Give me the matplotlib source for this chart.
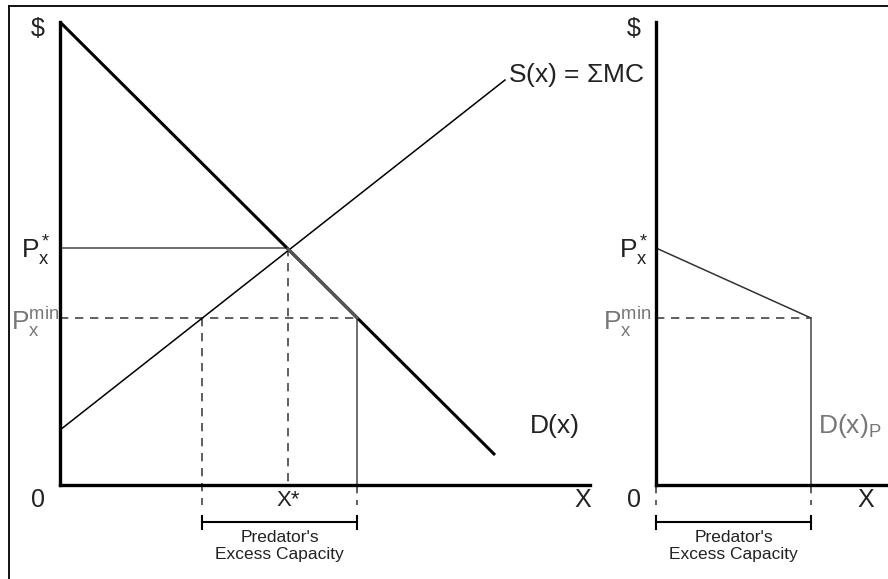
import numpy as np
import matplotlib
matplotlib.use("Agg")
import matplotlib.pyplot as plt
from matplotlib.lines import Line2D

plt.rcParams['font.family'] = ['Liberation Sans', 'DejaVu Sans']
plt.rcParams['mathtext.fontset'] = 'custom'
plt.rcParams['mathtext.rm'] = 'Liberation Sans'
plt.rcParams['mathtext.it'] = 'Liberation Sans'

# ---- data (economic units) ----
demand_q = [0.0, 43.5]
demand_p = [46.3, 3.0]
supply_q = [0.0, 44.5]
supply_p = [5.5, 40.5]
q_star = 22.8
p_star = 23.7
p_min = 16.7
qs_min = 14.2
qd_min = 29.7
resid_q = [0.0, 15.5, 15.5]
resid_p = [23.7, 16.7, 0.0]

W, H = 888, 579
fig = plt.figure(figsize=(W / 100, H / 100), dpi=100)

TXT = '#222222'
GRAY = '#555555'
LGRAY = '#777777'
DASH = (0, (5, 4))
ylim = 46.3
FS = 18

axL = fig.add_axes([60 / W, (H - 485) / H, 530 / W, 463 / H])
axR = fig.add_axes([656 / W, (H - 485) / H, 232 / W, 463 / H])
axL.set_xlim(0, 53.0)
axR.set_xlim(0, 23.2)
for ax in (axL, axR):
    ax.set_ylim(0, ylim)
    ax.set_xticks([])
    ax.set_yticks([])
    ax.spines['top'].set_visible(False)
    ax.spines['right'].set_visible(False)
    ax.spines['left'].set_linewidth(2.4)
    ax.spines['bottom'].set_linewidth(2.4)
    ax.patch.set_alpha(0)

# ---- left panel ----
axL.plot(demand_q, demand_p, color='black', lw=2.2, solid_capstyle='butt', zorder=3)
dq = np.array([q_star, qd_min])
dp = np.interp(dq, demand_q, demand_p)
axL.plot(dq, dp, color='#555555', lw=2.3, zorder=4)
axL.plot(supply_q, supply_p, color='black', lw=1.1, zorder=3)
axL.plot([0, q_star], [p_star, p_star], color=GRAY, lw=1.2)
axL.plot([0, qd_min], [p_min, p_min], color='#444444', lw=1.2, ls=DASH)
axL.plot([q_star, q_star], [p_star, 0], color='#444444', lw=1.2, ls=DASH)
axL.plot([qs_min, qs_min], [p_min, -2.0], color='#444444', lw=1.2, ls=DASH, clip_on=False)
axL.plot([qd_min, qd_min], [p_min, 0], color=GRAY, lw=1.2)
axL.plot([qd_min, qd_min], [0, -2.0], color='#444444', lw=1.2, ls=DASH, clip_on=False)
# bracket
axL.plot([qs_min, qd_min], [-3.7, -3.7], color='black', lw=1.5, clip_on=False)
for q in (qs_min, qd_min):
    axL.plot([q, q], [-3.1, -4.4], color='black', lw=1.5, clip_on=False)
axL.text((qs_min + qd_min) / 2, -4.5, "Predator's\nExcess Capacity", ha='center', va='top',
         fontsize=12.5, color=TXT, linespacing=1.15, clip_on=False)

axL.text(-2.2, 45.6, '$', ha='center', va='center', fontsize=FS, color=TXT)
axL.text(-0.9, p_star - 0.3, r'$\mathregular{P_x^*}$', ha='right', va='center', fontsize=FS + 1, color=TXT)
axL.text(-0.1, p_min - 0.4, r'$\mathregular{P_x^{min}}$', ha='right', va='center', fontsize=FS + 1, color=LGRAY)
axL.text(-2.2, -1.5, '0', ha='center', va='center', fontsize=FS, color=TXT)
axL.text(52.3, -1.5, 'X', ha='center', va='center', fontsize=FS, color=TXT)
axL.text(q_star, -1.5, 'X*', ha='center', va='center', fontsize=FS - 2, color=TXT)
axL.text(47.0, 5.9, 'D(x)', ha='left', va='center', fontsize=FS + 1, color=TXT)
axL.text(44.8, 41.0, r'S(x) = $\mathregular{\Sigma}$MC', ha='left', va='center', fontsize=FS + 1, color=TXT)

# ---- right panel ----
axR.plot(resid_q[:2], resid_p[:2], color='#333333', lw=1.1)
axR.plot(resid_q[1:], resid_p[1:], color=GRAY, lw=1.2)
axR.plot([0, resid_q[1]], [p_min, p_min], color='#444444', lw=1.2, ls=DASH)
axR.plot([0, 0], [0, -2.0], color='#444444', lw=1.2, ls=DASH, clip_on=False)
axR.plot([resid_q[1], resid_q[1]], [0, -2.0], color='#444444', lw=1.2, ls=DASH, clip_on=False)
axR.plot([0, resid_q[1]], [-3.7, -3.7], color='black', lw=1.5, clip_on=False)
for q in (0, resid_q[1]):
    axR.plot([q, q], [-3.1, -4.4], color='black', lw=1.5, clip_on=False)
axR.text(resid_q[1] / 2, -4.5, "Predator's\nExcess Capacity", ha='center', va='top',
         fontsize=12.5, color=TXT, linespacing=1.15, clip_on=False)

axR.text(-2.2, 45.6, '$', ha='center', va='center', fontsize=FS, color=TXT)
axR.text(-0.7, p_star - 0.3, r'$\mathregular{P_x^*}$', ha='right', va='center', fontsize=FS + 1, color=TXT)
axR.text(-0.5, p_min - 0.4, r'$\mathregular{P_x^{min}}$', ha='right', va='center', fontsize=FS + 1, color=LGRAY)
axR.text(-2.2, -1.5, '0', ha='center', va='center', fontsize=FS, color=TXT)
axR.text(21.0, -1.5, 'X', ha='center', va='center', fontsize=FS, color=TXT)
axR.text(16.2, 5.9, r'D(x)$\mathregular{_P}$', ha='left', va='center', fontsize=FS + 1, color=LGRAY)

# ---- outer frame ----
fig.add_artist(Line2D([9 / W, 9 / W], [0, 1 - 6 / H], color='black', lw=1.3))
fig.add_artist(Line2D([9 / W, 1], [1 - 6 / H, 1 - 6 / H], color='black', lw=1.3))

fig.savefig('out.png', dpi=100)
